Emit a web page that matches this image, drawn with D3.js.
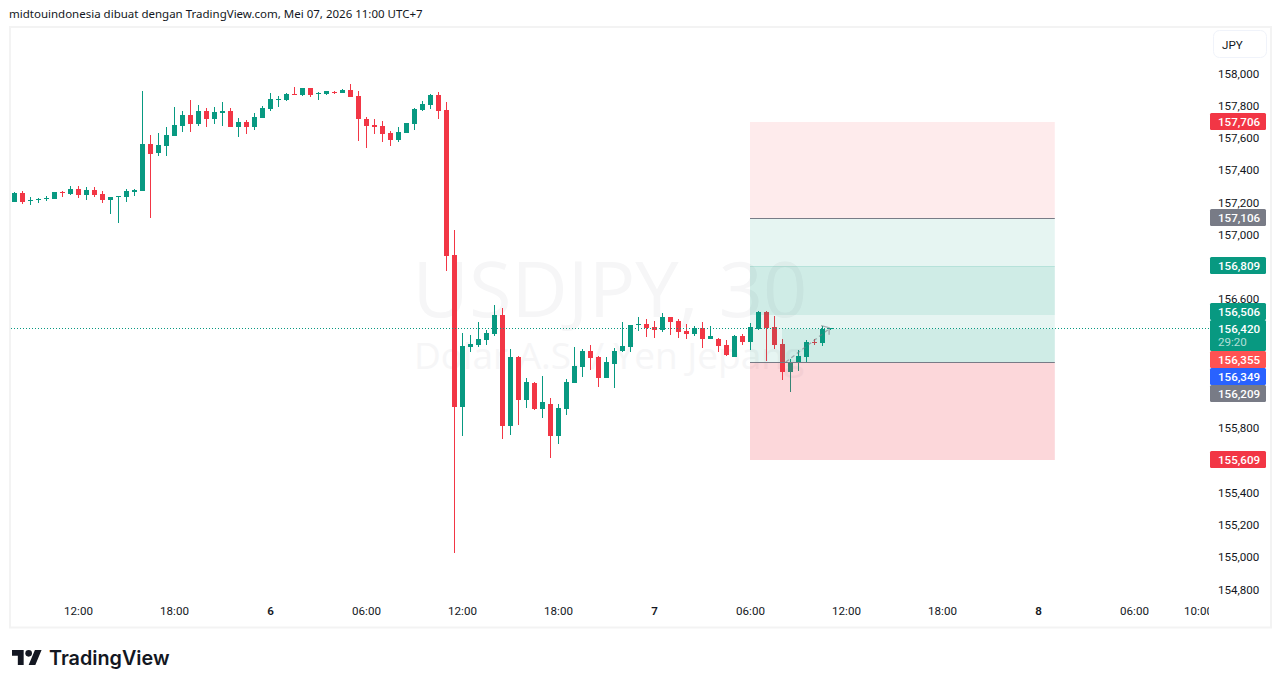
<!DOCTYPE html>
<html>
  <head>
    <title>USDJPY 30</title>
    <style>
      html, body { margin: 0; padding: 0; background: #fff; overflow: hidden; }
      svg { display: block; }
      .axis text { font-family: Roboto, sans-serif; font-size: 11.6px; fill: #131722; }
      .axis .domain { display: none; }
      .tag text { font-family: Roboto, sans-serif; font-size: 11.6px; font-weight: 500; fill: #fff; }
    </style>
  </head>
  <body>
    <script src="https://cdn.jsdelivr.net/npm/d3@7"></script>
    <script>
      // 30 minute bars
      var opens = [157202,157258,157208,157214,157221,157221,157264,157252,157283,157245,157276,157252,157214,157233,157233,157264,157270,157562,157506,157549,157611,157673,157741,157686,157766,157717,157754,157766,157667,157698,157667,157723,157779,157834,157834,157872,157865,157909,157872,157872,157884,157878,157896,157859,157717,157679,157673,157630,157586,157630,157686,157772,157803,157865,157772,156873,155931,156303,156315,156346,156383,156501,155813,156241,155974,156079,155918,155949,155751,155918,156079,156179,156278,156241,156110,156197,156278,156303,156439,156445,156427,156408,156489,156464,156402,156383,156421,156352,156352,156315,156241,156371,156334,156414,156520,156427,156321,156148,156210,156241,156334,156327,156414];
      var highs = [157264,157270,157233,157227,157239,157264,157270,157301,157301,157295,157295,157270,157233,157239,157283,157283,157890,157617,157630,157667,157791,157766,157834,157803,157785,157791,157822,157785,157723,157710,157754,157797,157878,157859,157878,157915,157909,157909,157884,157890,157890,157903,157934,157890,157729,157717,157704,157642,157667,157692,157785,157828,157872,157884,157822,157028,156390,156377,156458,156408,156563,156544,156290,156247,156110,156086,156123,155986,155949,156104,156303,156290,156315,156247,156241,156296,156458,156439,156489,156476,156464,156514,156489,156476,156445,156433,156458,156433,156359,156346,156377,156383,156452,156526,156526,156495,156352,156228,156284,156346,156352,156433,156421];
      var lows = [157202,157190,157183,157196,157208,157221,157233,157245,157227,157214,157233,157196,157127,157072,157202,157239,157270,157103,157487,157487,157611,157636,157636,157673,157667,157686,157673,157667,157605,157624,157648,157723,157766,157791,157828,157865,157859,157853,157834,157865,157872,157878,157853,157580,157537,157624,157574,157549,157574,157630,157648,157766,157779,157717,156774,155025,155751,156272,156303,156315,156371,155732,155757,155819,155924,155912,155862,155614,155701,155881,156079,156117,156160,156055,156110,156048,156272,156272,156402,156365,156359,156396,156377,156359,156352,156371,156296,156352,156272,156247,156241,156315,156284,156408,156216,156290,156098,156024,156154,156210,156315,156309,156408];
      var closes = [157258,157202,157214,157221,157227,157264,157258,157283,157245,157276,157245,157214,157233,157239,157270,157276,157562,157500,157555,157617,157679,157741,157686,157766,157717,157760,157766,157667,157698,157667,157729,157785,157841,157841,157872,157865,157909,157865,157878,157890,157878,157896,157853,157717,157673,157667,157624,157586,157636,157692,157779,157810,157865,157766,156867,155931,156309,156321,156352,156390,156501,155813,156241,155974,156086,155918,155962,155751,155924,156086,156185,156278,156234,156110,156210,156278,156309,156439,156445,156421,156408,156489,156458,156396,156383,156421,156352,156371,156309,156253,156371,156334,156427,156520,156421,156315,156148,156210,156247,156334,156327,156414,156420];

      var lastPrice = 156420;
      var countdown = "29:20";

      // the other round prices sit fully behind the price tags
      var priceTicks = [158000,157800,157600,157400,157200,157000,156600,155800,155400,155200,155000,154800];
      var timeTicks = [8,20,32,44,56,68,80,92,104,116,128,140,148];
      var timeLabels = ["12:00","18:00","6","06:00","12:00","18:00","7","06:00","12:00","18:00","8","06:00","10:00"];

      // long position drawing, bar numbers and prices
      var posStart = 92, posEnd = 130.1, filledStart = 96;
      var posTop = 157706, posTarget = 157106, posEntryHi = 156809, posEntryLo = 156506, posStop = 156209, posBottom = 155609;
      var arrowBars = [96.4, 101.7], arrowPrices = [156209, 156410];

      var tagPrices = [157706,157106,156809,156506,156420,156355,156349,156209,155609];
      var tagColors = ["#f23645","#787b86","#089981","#089981","#089981","#ff5252","#2962ff","#787b86","#f23645"];

      var w = 1281, h = 688;
      var green = "#089981", red = "#f23645", grey = "#787b86";

      var x = d3.scaleLinear().domain([0,148]).range([14.5,1198.5]);
      var y = d3.scaleLinear().domain([158000,154800]).range([73.3,589.3]);

      var svg = d3.select('body').append('svg').attr('width',w).attr('height',h);

      svg.append('clipPath').attr('id','plot').append('rect')
        .attr('x',11).attr('y',28).attr('width',1198).attr('height',599);

      // frame
      svg.append('rect').attr('x',10).attr('y',27).attr('width',1261).attr('height',600.5)
        .attr('fill','none').attr('stroke','#f3f3f3').attr('stroke-width',2);

      svg.append('text').attr('x',9).attr('y',18)
        .style('font-family','"Noto Sans", sans-serif').style('font-size','11.5px').style('fill','#131722')
        .text('midtouindonesia dibuat dengan TradingView.com, Mei 07, 2026 11:00 UTC+7');

      // watermark
      var mark = svg.append('g').style('font-family','"Open Sans", sans-serif').style('fill','#f6f6f7').attr('text-anchor','middle');
      mark.append('text').attr('x',610).attr('y',317).style('font-size','77.5px').text('USDJPY, 30');
      mark.append('text').attr('x',609).attr('y',369).style('font-size','37px').text('Dolar A.S. / Yen Jepang');

      var plot = svg.append('g').attr('clip-path','url(#plot)');

      // candles
      var bars = d3.range(opens.length);
      plot.selectAll('rect.wick').data(bars).enter().append('rect').attr('class','wick')
        .attr('x',function(i){return x(i)-0.5})
        .attr('width',1)
        .attr('y',function(i){return Math.round(y(highs[i]))})
        .attr('height',function(i){return Math.max(1,Math.round(y(lows[i]))-Math.round(y(highs[i])))})
        .attr('fill',function(i){return closes[i]>=opens[i]?green:red});
      plot.selectAll('rect.body').data(bars).enter().append('rect').attr('class','body')
        .attr('x',function(i){return x(i)-2.5})
        .attr('width',5)
        .attr('y',function(i){return Math.round(y(Math.max(opens[i],closes[i])))})
        .attr('height',function(i){return Math.max(1,Math.round(y(Math.min(opens[i],closes[i])))-Math.round(y(Math.max(opens[i],closes[i]))))})
        .attr('fill',function(i){return closes[i]>=opens[i]?green:red});

      // position boxes go over the candles
      function edge(p){return Math.round(y(p)+0.8)}
      function box(x0,x1,p0,p1,col,op){
        plot.append('rect').attr('x',x(x0)-0.5).attr('width',x(x1)-x(x0))
          .attr('y',edge(p0)).attr('height',edge(p1)-edge(p0))
          .attr('fill',col).attr('fill-opacity',op);
      }
      box(posStart,posEnd,posTop,posTarget,red,0.1);
      box(posStart,posEnd,posTarget,posStop,green,0.1);
      box(posStart,posEnd,posEntryHi,posEntryLo,green,0.1);
      box(filledStart,posEnd,lastPrice,posStop,green,0.1);
      box(posStart,posEnd,posStop,posBottom,red,0.2);

      plot.append('line').attr('x1',x(posStart)-0.5).attr('x2',x(posEnd)-0.5)
        .attr('y1',edge(posEntryHi)+0.5).attr('y2',edge(posEntryHi)+0.5)
        .attr('stroke',green).attr('stroke-opacity',0.12);
      [posTarget,posStop].forEach(function(p){
        var row = Math.round(y(p)+0.3)+0.5;
        plot.append('line').attr('x1',x(posStart)-0.5).attr('x2',x(posEnd)-0.5).attr('y1',row).attr('y2',row)
          .attr('stroke',grey).attr('stroke-width',1);
      });

      // dashed arrow of the trade
      var ax0 = x(arrowBars[0]), ax1 = x(arrowBars[1]), ay0 = y(arrowPrices[0]), ay1 = y(arrowPrices[1]);
      plot.append('line').attr('x1',ax0).attr('y1',ay0).attr('x2',ax1).attr('y2',ay1)
        .attr('stroke',grey).attr('stroke-opacity',0.6).attr('stroke-width',1.3).attr('stroke-dasharray','4 3');
      plot.append('path').attr('d','M'+(ax1-7)+','+(ay1-4)+'L'+(ax1+1)+','+(ay1-2)+'L'+(ax1+1)+','+(ay1+5))
        .attr('fill','none').attr('stroke',grey).attr('stroke-opacity',0.6).attr('stroke-width',1.3);

      // last price line
      plot.append('line').attr('x1',11).attr('x2',1209).attr('y1',Math.round(y(lastPrice))+0.5).attr('y2',Math.round(y(lastPrice))+0.5)
        .attr('stroke',green).attr('stroke-width',1).attr('stroke-dasharray','1 2');

      // time axis
      var xAxis = d3.axisBottom(x).tickValues(timeTicks).tickSize(0).tickPadding(0)
        .tickFormat(function(d,i){return timeLabels[i]});
      var xg = svg.append('g').attr('clip-path','url(#plot)').append('g')
        .attr('class','axis').attr('transform','translate(-0.5,607)').call(xAxis);
      xg.selectAll('text').style('font-weight',function(d,i){return timeLabels[i].length==1?'600':'400'});

      // price axis
      var yAxis = d3.axisRight(y).tickValues(priceTicks).tickSize(0).tickPadding(8).tickFormat(d3.format(','));
      svg.append('g').attr('class','axis').attr('transform','translate(1210,0)').call(yAxis);

      // JPY box
      svg.append('rect').attr('x',1213.5).attr('y',30.5).attr('width',53).attr('height',27).attr('rx',6)
        .attr('fill','#fff').attr('stroke','#f0f3fa');
      svg.append('text').attr('x',1222).attr('y',49).attr('class','unit')
        .style('font-family','Roboto, sans-serif').style('font-size','11.6px').style('fill','#131722').text('JPY');

      // price tags, pushed apart from the last price tag
      var anchor = tagPrices.indexOf(lastPrice);
      function tagH(i){return i==anchor?31:17}
      var tops = tagPrices.map(function(p){return Math.round(y(p))-8});
      for(var i=anchor+1;i<tops.length;i++){ tops[i] = Math.max(tops[i],tops[i-1]+tagH(i-1)); }
      for(var i=anchor-1;i>=0;i--){ tops[i] = Math.min(tops[i],tops[i+1]-tagH(i)); }

      var tags = svg.selectAll('g.tag').data(tagPrices).enter().append('g').attr('class','tag')
        .attr('transform',function(d,i){return 'translate(1210,'+tops[i]+')'});
      tags.append('rect').attr('width',56).attr('height',function(d,i){return tagH(i)}).attr('rx',1.5)
        .attr('fill',function(d,i){return tagColors[i]});
      tags.append('text').attr('x',8).attr('y',12.5).text(d3.format(','));
      tags.filter(function(d){return d==lastPrice}).append('text')
        .attr('x',8).attr('y',26).style('fill-opacity',0.7).style('font-weight',400).text(countdown);

      // logo
      var logo = svg.append('g').attr('transform','translate(12,646.7) scale(0.833)').attr('fill','#131722');
      logo.append('path').attr('d','M14 22H7V11H0V4h14v18zM28 22h-8l7.5-18h8L28 22z');
      logo.append('circle').attr('cx',20).attr('cy',8).attr('r',4);
      svg.append('text').attr('x',49).attr('y',665)
        .style('font-family','Inter, sans-serif').style('font-weight',600).style('font-size','19.8px').style('fill','#131722')
        .text('TradingView');
    </script>
  </body>
</html>
